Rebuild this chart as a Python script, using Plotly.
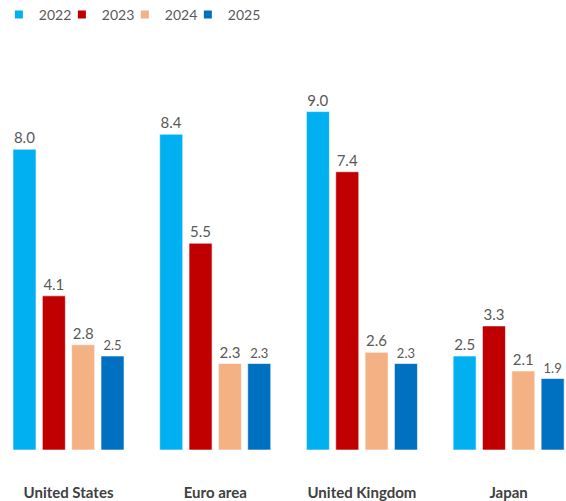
import plotly.graph_objects as go

categories = ["United States", "Euro area", "United Kingdom", "Japan"]
years = ["2022", "2023", "2024", "2025"]
v2022 = [8.0, 8.4, 9.0, 2.5]
v2023 = [4.1, 5.5, 7.4, 3.3]
v2024 = [2.8, 2.3, 2.6, 2.1]
v2025 = [2.5, 2.3, 2.3, 1.9]
series = [v2022, v2023, v2024, v2025]
colors = ["#00B0F0", "#C00000", "#F4B183", "#0070C0"]
label_sizes = [15, 15, 15, 13]

FONT = "Lato"
GREY = "#595959"

fig = go.Figure()
for yr, vals, col, ls in zip(years, series, colors, label_sizes):
    fig.add_trace(go.Bar(
        x=categories, y=vals, name=yr,
        marker=dict(color=col, line=dict(color="rgba(255,255,255,0.6)", width=1)),
        text=[f"{v:.1f}" for v in vals], textposition="outside",
        textfont=dict(family=FONT, size=ls, color=GREY),
        cliponaxis=False, showlegend=False,
    ))
    fig.add_trace(go.Scatter(
        x=[None], y=[None], mode="markers", name=yr,
        marker=dict(symbol="square", size=8, color=col),
    ))
# blank spacer entry so the last legend label is not clipped
fig.add_trace(go.Scatter(x=[None], y=[None], mode="markers", name=" ",
                         marker=dict(color="rgba(0,0,0,0)", size=1)))

fig.update_layout(
    width=566, height=501,
    margin=dict(l=0, r=0, t=74, b=51, autoexpand=False),
    paper_bgcolor="white", plot_bgcolor="white",
    barmode="group", bargap=0.2, bargroupgap=0.215,
    font=dict(family=FONT, color=GREY),
    legend=dict(orientation="h", x=-0.002, y=1.20, yanchor="top",
                xanchor="left", font=dict(family=FONT, size=14, color=GREY),
                entrywidth=18, entrywidthmode="pixels", bgcolor="rgba(0,0,0,0)",
                itemwidth=30, tracegroupgap=0),
    xaxis=dict(type="category", range=[-0.467, 3.391], showgrid=False, zeroline=False,
               showline=False, ticks="", ticklabelstandoff=32, automargin=False,
               tickfont=dict(family=FONT, size=15, color="#404040", weight="bold")),
    yaxis=dict(range=[0, 10], visible=False, showgrid=False, zeroline=False,
               automargin=False),
)

fig.write_html("out.html", config={"displayModeBar": False},
               post_script="document.body.style.margin='0';document.body.style.padding='0';")
